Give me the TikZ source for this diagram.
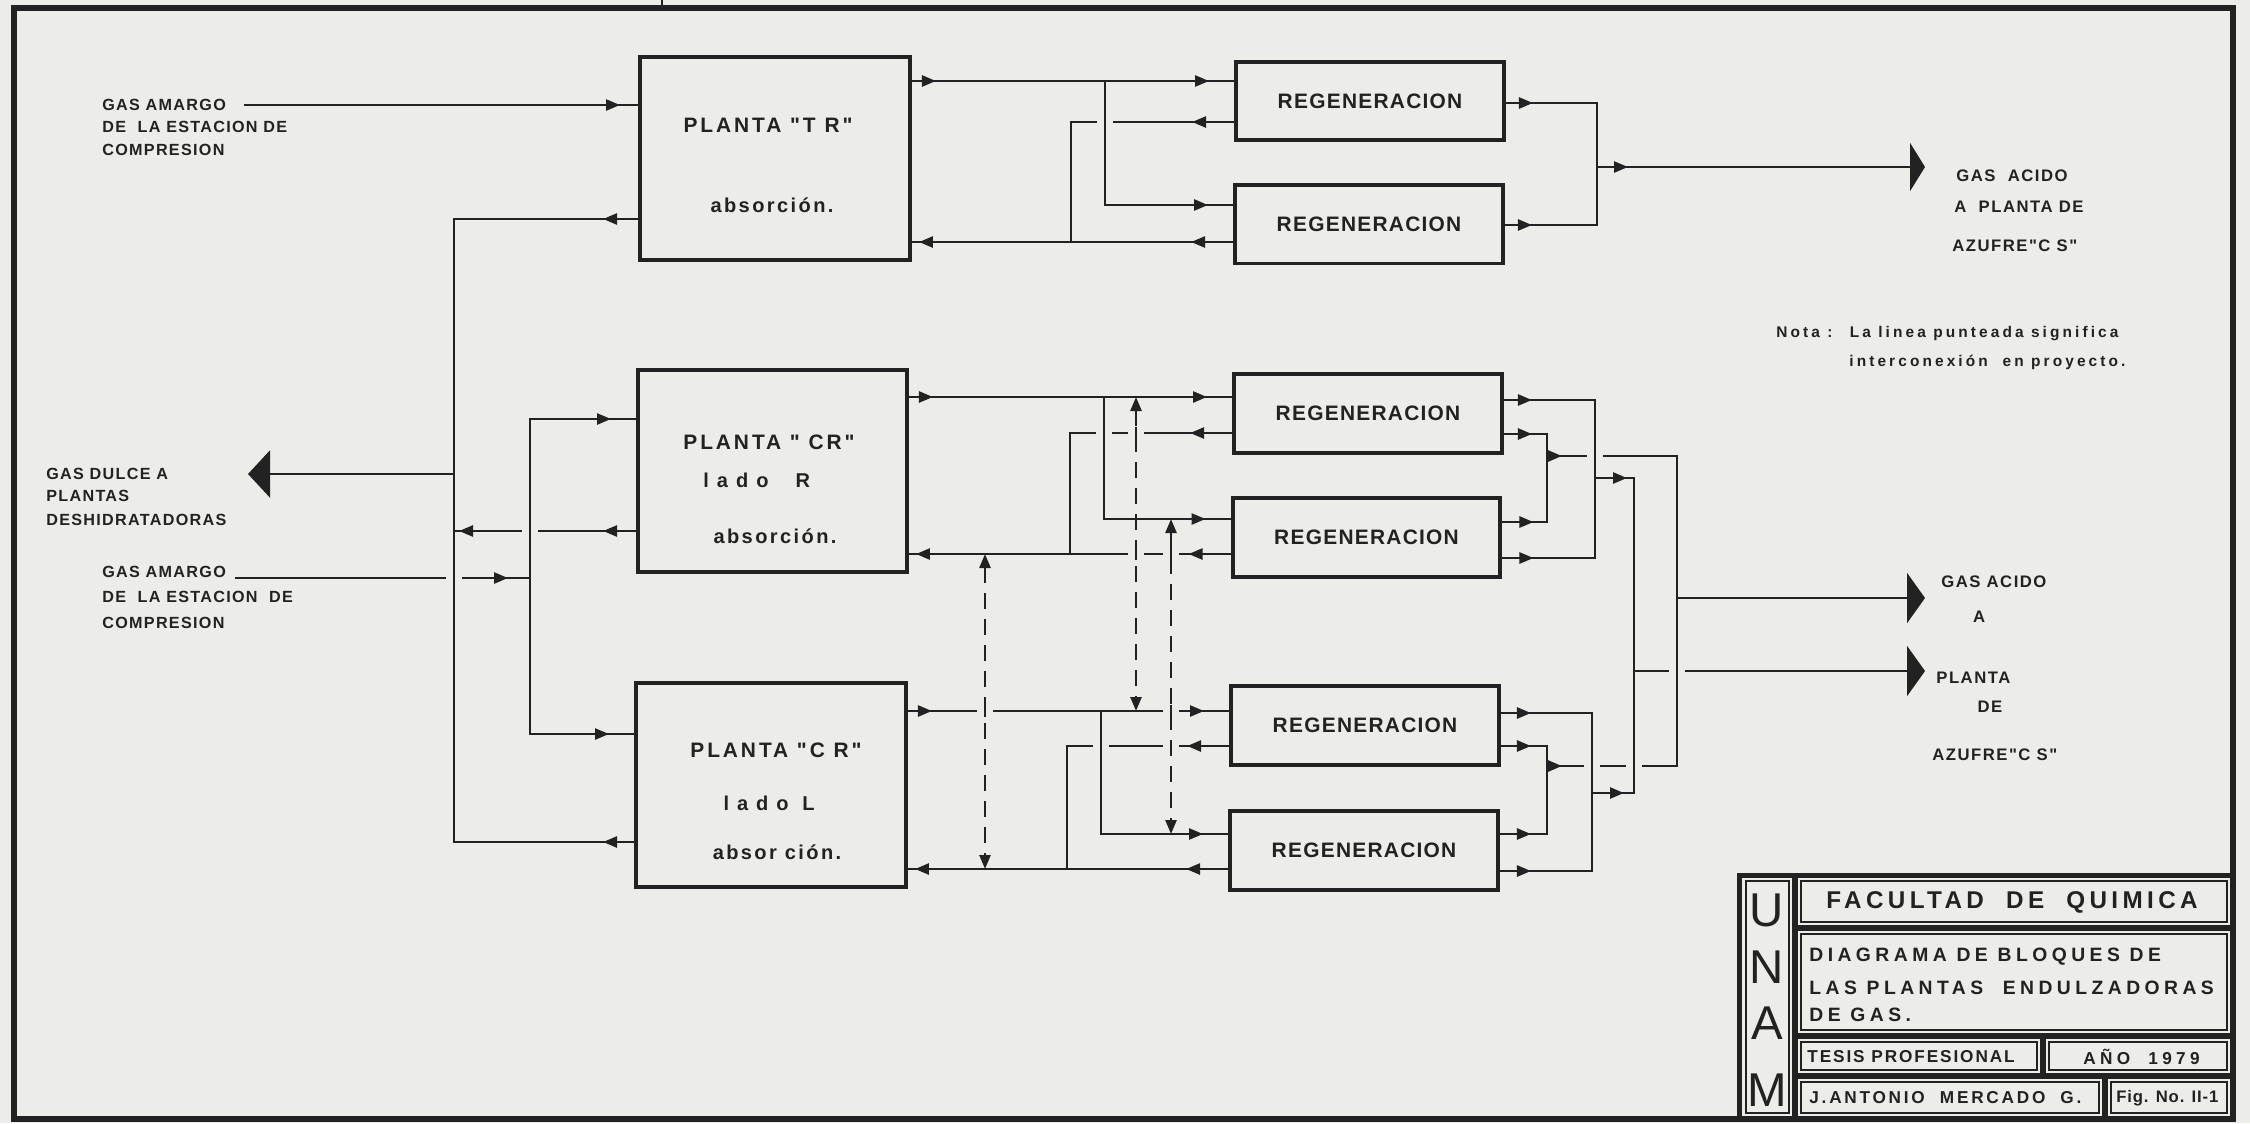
\documentclass[tikz,border=0pt]{standalone}
\usepackage{fontspec}
\setmainfont{Liberation Sans}[Ligatures=TeXOff]
\usetikzlibrary{arrows.meta,decorations.markings}
\definecolor{paper}{RGB}{236,236,233}
\definecolor{ink}{RGB}{34,34,34}
\newcommand\fz[1]{\fontsize{#1}{#1}\selectfont}
\newcommand\lsp[1]{\addfontfeatures{LetterSpace=#1}}
\newcommand\xgap[3]{\fill[paper] (#1,#2) ++(-8,-5) rectangle ++(16,10); \draw[#3] (#1,#2) ++(0,-6) -- ++(0,12);}
\begin{document}
\begin{tikzpicture}[x=0.02cm,y=-0.02cm,
  >={Triangle[length=0.28cm,width=0.22cm]},
  ln/.style={color=ink,line width=0.05cm},
  dsh/.style={color=ink,line width=0.05cm,dash pattern=on 0.32cm off 0.2cm},
  am/.style={postaction={decorate,decoration={markings,mark=at position #1 with {\arrow{>}}}}},
  box/.style={draw=ink,line width=0.08cm,inner sep=0pt,outer sep=0pt},
  rg/.style={box,minimum width=5.36cm,minimum height=1.58cm,text=ink,font=\fz{11.9pt}\bfseries\lsp{6}},
  lbl/.style={text=ink,inner sep=0pt,anchor=west,font=\fz{9.2pt}\bfseries\lsp{8}},
  btx/.style={text=ink,inner sep=0pt,font=\fz{11.9pt}\bfseries\lsp{14}},
  atx/.style={text=ink,inner sep=0pt,font=\fz{11.4pt}\bfseries\lsp{12}},
  rlb/.style={text=ink,inner sep=0pt,anchor=west,font=\fz{9.5pt}\bfseries\lsp{9}},
  nta/.style={text=ink,inner sep=0pt,anchor=west,font=\fz{8.8pt}\bfseries\lsp{20}},
  tbl/.style={text=ink,inner sep=0pt,anchor=west,font=\fz{9.8pt}\bfseries\lsp{11}},
  tcell/.style={color=ink,line width=0.05cm},
  tsep/.style={color=ink,line width=0.12cm}
]
\fill[paper] (0,0) rectangle (2250,1123);
\useasboundingbox (0,0) rectangle (2250,1123);
% frame
\draw[color=ink,line width=0.11cm] (14,8) rectangle (2233,1119);
\draw[ln] (662,0) -- (662,8);

% main boxes
\node[box,minimum width=5.4cm,minimum height=4.06cm] (tr) at (775,158.5) {};
\node[box,minimum width=5.38cm,minimum height=4.04cm] (crr) at (772.5,471) {};
\node[box,minimum width=5.4cm,minimum height=4.08cm] (crl) at (771,785) {};
\node[btx] (trt1) at (768,125) {PLANTA "T R"};
\node[atx] (trt2) at (772,205) {absorción.};
\node[btx] (crrt1) at (769,442) {PLANTA " CR"};
\node[atx,anchor=west,font=\fz{11.4pt}\bfseries\lsp{40}] (crrt2) at (703,480) {lado~ R};
\node[atx] (crrt3) at (775,536) {absorción.};
\node[btx] (crlt1) at (776,750) {PLANTA "C R"};
\node[atx,font=\fz{11.4pt}\bfseries\lsp{40}] (crlt2) at (769,803) {lado L};
\node[atx] (crlt3) at (777,852) {absor ción.};

% regeneration boxes
\node[rg] (r1) at (1370,101) {REGENERACION};
\node[rg] (r2) at (1369,224) {REGENERACION};
\node[rg] (r3) at (1368,413.5) {REGENERACION};
\node[rg] (r4) at (1366.5,537.5) {REGENERACION};
\node[rg] (r5) at (1365,725.5) {REGENERACION};
\node[rg] (r6) at (1364,850) {REGENERACION};

% labels
\node[lbl] (ga1a) at (102,105) {GAS AMARGO};
\node[lbl] (ga1b) at (102,127) {DE~ LA ESTACION DE};
\node[lbl] (ga1c) at (102,150) {COMPRESION};
\node[lbl] (gd1) at (46,474) {GAS DULCE A};
\node[lbl] (gd2) at (46,496) {PLANTAS};
\node[lbl] (gd3) at (46,520) {DESHIDRATADORAS};
\node[lbl] (ga2a) at (102,572) {GAS AMARGO};
\node[lbl] (ga2b) at (102,597) {DE~ LA ESTACION~ DE};
\node[lbl] (ga2c) at (102,623) {COMPRESION};

\node[rlb] (ac1) at (1956,176) {GAS~ ACIDO};
\node[rlb] (ac2) at (1954,207) {A~ PLANTA DE};
\node[rlb] (ac3) at (1952,246) {AZUFRE"C S"};
\node[rlb] (bc1) at (1941,582) {GAS ACIDO};
\node[rlb,anchor=center] (bc2) at (1979,617) {A};
\node[rlb] (bc3) at (1936,678) {PLANTA};
\node[rlb,anchor=center] (bc4) at (1990,707) {DE};
\node[rlb] (bc5) at (1932,755) {AZUFRE"C S"};

\node[nta] (nt1) at (1776,334) {Nota :~ La linea punteada significa};
\node[nta] (nt2) at (1849,362) {interconexión~ en proyecto.};

% coordinates
\coordinate (ga1s) at (244,105);
\coordinate (jd) at (454,474);
\coordinate (gd) at (248,474);
\coordinate (ga2s) at (235,578);
\coordinate (j2) at (530,578);
\coordinate (s1) at (1105,81);
\coordinate (s2) at (1104,397);
\coordinate (s3) at (1101,711);
\coordinate (jt) at (1597,167);
\coordinate (at1) at (1925,167);
\coordinate (jo1) at (1595,478);
\coordinate (ji1) at (1547,456);
\coordinate (jo2) at (1592,793);
\coordinate (ji2) at (1547,766);
\coordinate (ja1) at (1677,598);
\coordinate (ja2) at (1634,671);
\coordinate (at2) at (1925,598);
\coordinate (at3) at (1925,671);
\coordinate (d1a) at (985,554);
\coordinate (d1b) at (985,869);
\coordinate (d2a) at (1136,397);
\coordinate (d2b) at (1136,711);
\coordinate (d3a) at (1171,519);
\coordinate (d3b) at (1171,834);

% TR section
\draw[ln,am=-0.4cm] (ga1s) -- (tr.west |- ga1s);
\draw[ln,am=0.74cm] (tr.west |- 0,219) -- (454,219) -- (jd);
\draw[ln,am=0.52cm,am=-0.54cm] (tr.east |- 0,81) -- (r1.west |- 0,81);
\draw[ln,am=-0.54cm] (s1) -- (1105,205) -- (r2.west |- 0,205);
\draw[ln,am=0.88cm] (r1.west |- 0,122) -- (1071,122) -- (1071,242);
\draw[ln,am=0.88cm,am=-0.18cm] (r2.west |- 0,242) -- (tr.east |- 0,242);
\draw[ln,am=0.58cm] (r1.east |- 0,103) -- (1597,103) -- (jt);
\draw[ln,am=0.58cm] (r2.east |- 0,225) -- (1597,225) -- (jt);
\draw[ln,am=0.62cm,-{Triangle[length=0.3cm,width=0.96cm]}] (jt) -- (at1);

% left section
\draw[ln,-{Triangle[length=0.44cm,width=0.94cm]}] (jd) -- (gd);
\draw[ln,am=0.66cm] (crl.west |- 0,842) -- (454,842) -- (jd);
\draw[ln,am=0.7cm,am=-0.1cm] (crr.west |- 0,531) -- (454,531);
\draw[ln,am=-0.44cm] (ga2s) -- (j2);
\draw[ln,am=-0.54cm] (j2) -- (530,419) -- (crr.west |- 0,419);
\draw[ln,am=-0.54cm] (j2) -- (530,734) -- (crl.west |- 0,734);

% CR-R regeneration
\draw[ln,am=0.52cm,am=-0.54cm] (crr.east |- 0,397) -- (r3.west |- 0,397);
\draw[ln,am=-0.54cm] (s2) -- (1104,519) -- (r4.west |- 0,519);
\draw[ln,am=0.88cm] (r3.west |- 0,433) -- (1070,433) -- (1070,554);
\draw[ln,am=0.88cm,am=-0.18cm] (r4.west |- 0,554) -- (crr.east |- 0,554);

% CR-L regeneration
\draw[ln,am=0.52cm,am=-0.54cm] (crl.east |- 0,711) -- (r5.west |- 0,711);
\draw[ln,am=-0.54cm] (s3) -- (1101,834) -- (r6.west |- 0,834);
\draw[ln,am=0.88cm] (r5.west |- 0,746) -- (1067,746) -- (1067,869);
\draw[ln,am=0.88cm,am=-0.18cm] (r6.west |- 0,869) -- (crl.east |- 0,869);

% dashed interconnections
\draw[dsh,<->] (d1a) -- (d1b);
\draw[dsh,<->] (d2a) -- (d2b);
\draw[dsh,<->] (d3a) -- (d3b);

% acid gas outputs
\draw[ln,am=0.6cm] (r3.east |- 0,400) -- (1595,400) -- (jo1);
\draw[ln,am=0.66cm] (r4.east |- 0,558) -- (1595,558) -- (jo1);
\draw[ln,am=0.6cm] (r3.east |- 0,434) -- (1547,434) -- (ji1);
\draw[ln,am=0.66cm] (r4.east |- 0,522) -- (1547,522) -- (ji1);
\draw[ln,am=0.64cm] (r5.east |- 0,713) -- (1592,713) -- (jo2);
\draw[ln,am=0.66cm] (r6.east |- 0,871) -- (1592,871) -- (jo2);
\draw[ln,am=0.64cm] (r5.east |- 0,746) -- (1547,746) -- (ji2);
\draw[ln,am=0.66cm] (r6.east |- 0,834) -- (1547,834) -- (ji2);
\draw[ln,am=0.3cm] (ji1) -- (1677,456) -- (ja1);
\draw[ln,am=0.3cm] (ji2) -- (1677,766) -- (ja1);
\draw[ln,am=0.64cm] (jo1) -- (1634,478) -- (ja2);
\draw[ln,am=0.64cm] (jo2) -- (1634,793) -- (ja2);
\draw[ln,-{Triangle[length=0.36cm,width=1.0cm]}] (ja1) -- (at2);
\draw[ln,-{Triangle[length=0.36cm,width=1.0cm]}] (ja2) -- (at3);

% crossings
\xgap{1105}{122}{ln}
\xgap{530}{531}{ln}
\xgap{454}{578}{ln}
\xgap{1104}{433}{ln}
\xgap{1136}{433}{ln}
\xgap{1136}{554}{ln}
\xgap{1171}{554}{ln}
\xgap{985}{711}{ln}
\xgap{1171}{711}{ln}
\xgap{1101}{746}{ln}
\xgap{1171}{746}{ln}
\xgap{1595}{456}{ln}
\xgap{1592}{766}{ln}
\xgap{1634}{766}{ln}
\xgap{1677}{671}{ln}

% title block
\draw[color=ink,line width=0.1cm] (1739,875) rectangle (2233,1119);
\draw[tsep] (1795,875) -- (1795,1119);
\draw[tsep] (1795,928) -- (2233,928);
\draw[tsep] (1795,1036) -- (2233,1036);
\draw[tsep] (1795,1076) -- (2233,1076);
\draw[tsep] (2043,1036) -- (2043,1076);
\draw[tsep] (2105,1076) -- (2105,1119);
\draw[tcell] (1746,881) rectangle (1789,1113);
\draw[tcell] (1801,881) rectangle (2227,922);
\draw[tcell] (1801,934) rectangle (2227,1030);
\draw[tcell] (1801,1042) rectangle (2037,1070);
\draw[tcell] (2049,1042) rectangle (2227,1070);
\draw[tcell] (1801,1082) rectangle (2099,1113);
\draw[tcell] (2111,1082) rectangle (2227,1113);
\node[text=ink,inner sep=0pt,font=\fz{27pt}] (tu) at (1767,910) {U};
\node[text=ink,inner sep=0pt,font=\fz{27pt}] (tn) at (1767,967) {N};
\node[text=ink,inner sep=0pt,font=\fz{27pt}] (ta) at (1767,1023) {A};
\node[text=ink,inner sep=0pt,font=\fz{27pt}] (tm) at (1767,1090) {M};
\node[text=ink,inner sep=0pt,font=\fz{13.8pt}\bfseries\lsp{18}] (tfq) at (2012,902) {FACULTAD~ DE~ QUIMICA};
\node[tbl,font=\fz{11pt}\bfseries\lsp{23}] (td1) at (1809,957) {DIAGRAMA DE BLOQUES DE};
\node[tbl,font=\fz{11pt}\bfseries\lsp{23}] (td2) at (1809,988) {LAS PLANTAS~ ENDULZADORAS};
\node[tbl,font=\fz{11pt}\bfseries\lsp{23}] (td3) at (1809,1015) {DE GAS.};
\node[tbl] (tt) at (1807,1057) {TESIS PROFESIONAL};
\node[tbl,font=\fz{9.8pt}\bfseries\lsp{25}] (tan) at (2083,1057) {AÑO~ 1979};
\node[tbl,font=\fz{9.8pt}\bfseries\lsp{16}] (tj) at (1809,1098) {J.ANTONIO~ MERCADO~ G.};
\node[tbl,font=\fz{9.5pt}\bfseries\lsp{5}] (tf) at (2116,1098) {Fig. No. II-1};
\end{tikzpicture}
\end{document}
